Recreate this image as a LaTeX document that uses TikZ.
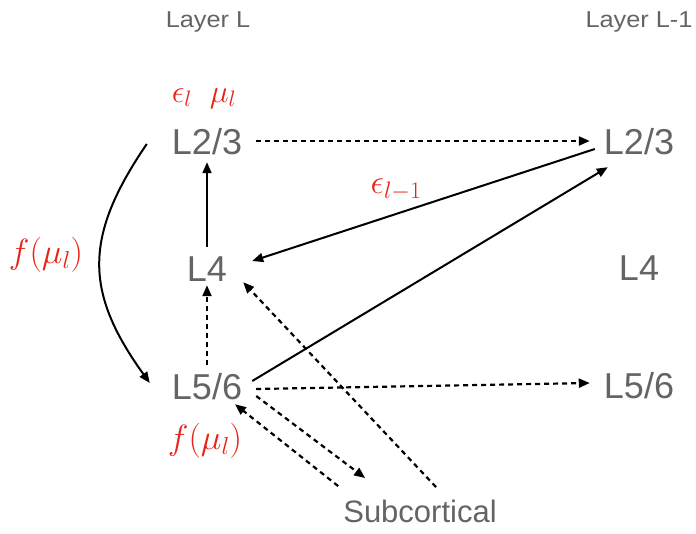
\RequirePackage{fix-cm}
\documentclass[tikz,border=0pt]{standalone}
\usepackage[no-math]{fontspec}
\setmainfont{Liberation Sans}
\usepackage{graphicx}
\usetikzlibrary{arrows.meta,positioning,calc}
\definecolor{layergray}{RGB}{100,100,100}
\definecolor{errred}{RGB}{232,36,24}

\tikzset{
    lyr/.style={text=layergray, font=\fontsize{36}{36}\selectfont, inner xsep=14pt, inner ysep=8pt, text height=26pt, text depth=0pt},
    hdr/.style={text=layergray, font=\fontsize{23}{23}\selectfont, anchor=base, inner sep=0pt},
    sig/.style={text=errred, font=\fontsize{35}{35}\selectfont, anchor=base, inner sep=0pt},
    fwd/.style={-{Triangle[length=11pt,width=9pt]}, line width=2pt},
    mod/.style={fwd, line width=2.2pt, dash pattern=on 5pt off 4pt},
}

\begin{document}
\begin{tikzpicture}[x=1pt, y=-1pt]
    \useasboundingbox (0,0) rectangle (696,533);
    % column headers
    \node[hdr] (hL) at (208,27) {\scalebox{1.1}[1]{Layer L}};
    \node[hdr] (hL1) at (639,27) {\scalebox{1.1}[1]{Layer L-1}};
    % layer L
    \node[lyr] (L23a) at (207,141) {L2/3};
    \node[lyr] (L4a) at (207,268) {L4};
    \node[lyr] (L56a) at (207,386) {L5/6};
    % layer L-1
    \node[lyr] (L23b) at (639,141) {L2/3};
    \node[lyr] (L4b) at (639,267) {L4};
    \node[lyr] (L56b) at (639,385) {L5/6};
    \node[lyr, font=\fontsize{31}{31}\selectfont, text height=22.5pt] (sub) at (420,511.5) {Subcortical};
    % signals
    \node[sig, font=\fontsize{32}{32}\selectfont] (emu) at (204,102) {$\epsilon_l\;\;\mu_l$};
    \node[sig] (fmu1) at (46,263) {$f(\mu_l)$};
    \node[sig] (fmu2) at (205,449) {$f(\mu_l)$};
    \node[sig, font=\fontsize{34}{34}\selectfont] (elm1) at (396,193) {$\epsilon_{l-1}$};
    % connections
    \draw[mod] (L23a.east) -- (L23b.west);
    \draw[fwd] (L4a.north) -- (L23a.south);
    \draw[fwd] ([xshift=5pt,yshift=-8pt]L23b.west) -- ([xshift=11pt,yshift=7pt]L4a.east);
    \draw[fwd] ([xshift=-4pt,yshift=5pt]L56a.east) -- ([xshift=18pt,yshift=-5pt]L23b.south west);
    \draw[mod] (L56a.north) -- ([yshift=4pt]L4a.south);
    \draw[mod] ([xshift=16pt,yshift=5pt]sub.north) -- ([xshift=2pt,yshift=7pt]L4a.south east);
    \draw[mod] ([yshift=-3pt]L56a.east) -- ([yshift=2pt]L56b.west);
    \draw[mod] ([yshift=-10pt]L56a.east) -- ([xshift=36pt,yshift=14pt]sub.north west);
    \draw[mod] ([xshift=9pt,yshift=6pt]sub.north west) -- ([xshift=28pt,yshift=3pt]L56a.south);
    \draw[fwd] ([xshift=-11pt,yshift=-3pt]L23a.west) to[bend right=35, looseness=1.2] ([xshift=-8pt,yshift=3pt]L56a.west);
\end{tikzpicture}
\end{document}
